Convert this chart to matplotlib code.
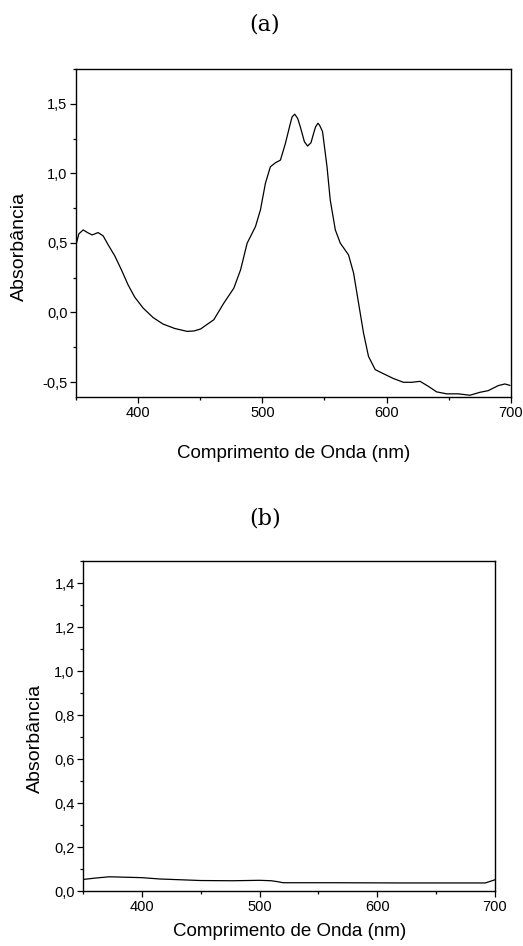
import numpy as np
import matplotlib
matplotlib.use("Agg")
import matplotlib.pyplot as plt
from matplotlib.ticker import MultipleLocator

plt.rcParams['font.family'] = ['Liberation Sans', 'DejaVu Sans']

# spectrum (a)
wl_a = [350.5, 352.3, 355.8, 359.3, 363, 367.8, 371.9, 375.9, 381.2, 386.6,
        391.9, 397.3, 404, 412, 420, 429.4, 439.5, 445, 450.3, 461,
        469, 477.1, 482.5, 487.8, 494.5, 498.5, 502.5, 506.5, 510.6, 514.6,
        518.6, 522.6, 524, 526.1, 528.5, 530.6, 533.9, 536.5, 539.2, 541.3,
        542.9, 544.8, 546.1, 548.5, 552.1, 554.7, 558.8, 562.8, 569.4, 573.5,
        577.5, 581.5, 585.5, 590.9, 596.3, 605.6, 613.6, 620.4, 627, 633.7,
        640.4, 648.5, 657.8, 667.2, 675.2, 681.9, 689.9, 695.3, 699.3]
abs_a = [0.502, 0.565, 0.593, 0.574, 0.557, 0.574, 0.550, 0.486, 0.407, 0.306,
         0.199, 0.110, 0.032, -0.036, -0.083, -0.115, -0.136, -0.133, -0.119, -0.052,
         0.067, 0.175, 0.306, 0.498, 0.617, 0.737, 0.928, 1.047, 1.076, 1.095,
         1.215, 1.359, 1.406, 1.425, 1.394, 1.334, 1.227, 1.196, 1.220, 1.287,
         1.334, 1.360, 1.346, 1.300, 1.047, 0.808, 0.593, 0.498, 0.414, 0.283,
         0.067, -0.148, -0.316, -0.411, -0.435, -0.475, -0.502, -0.502, -0.495, -0.531,
         -0.571, -0.585, -0.585, -0.595, -0.574, -0.562, -0.526, -0.514, -0.524]

# spectrum (b)
wl_b = [350, 360, 372, 386, 400, 415, 435, 450, 477, 500, 510, 515, 520,
        534, 562, 620, 676, 692, 700]
abs_b = [0.054, 0.060, 0.066, 0.064, 0.062, 0.056, 0.052, 0.049, 0.048, 0.050,
         0.048, 0.044, 0.039, 0.039, 0.039, 0.038, 0.038, 0.038, 0.052]

xticks = [400, 500, 600, 700]
yticks_a = [-0.5, 0.0, 0.5, 1.0, 1.5]
ylabels_a = ["-0,5", "0,0", "0,5", "1,0", "1,5"]
yticks_b = [0.0, 0.2, 0.4, 0.6, 0.8, 1.0, 1.2, 1.4]
ylabels_b = ["0,0", "0,2", "0,4", "0,6", "0,8", "1,0", "1,2", "1,4"]

fig = plt.figure(figsize=(5.23, 9.46), dpi=100)
ax1 = fig.add_axes([0.1453, 0.580, 0.8312, 0.3471])
ax2 = fig.add_axes([0.1593, 0.0578, 0.7866, 0.3492])

def style(ax, yt, yl, ymin_loc):
    ax.set_xticks(xticks)
    ax.set_xticklabels([str(t) for t in xticks])
    ax.set_yticks(yt)
    ax.set_yticklabels(yl)
    ax.xaxis.set_minor_locator(MultipleLocator(50))
    ax.yaxis.set_minor_locator(MultipleLocator(ymin_loc))
    ax.tick_params(which='major', direction='out', length=4.2, width=0.9,
                   labelsize=10.5, pad=2, top=False, right=False)
    ax.tick_params(which='minor', direction='out', length=2.2, width=0.9,
                   top=False, right=False)
    for s in ax.spines.values():
        s.set_linewidth(1.0)

ax1.plot(wl_a, abs_a, color='black', lw=0.9)
ax1.set_xlim(350, 700)
ax1.set_ylim(-0.61, 1.75)
style(ax1, yticks_a, ylabels_a, 0.25)

ax2.plot(wl_b, abs_b, color='black', lw=0.9)
ax2.set_xlim(350, 700)
ax2.set_ylim(0, 1.5)
style(ax2, yticks_b, ylabels_b, 0.1)

fig.text(0.5067, 0.9736, "(a)", family='DejaVu Serif', fontsize=16, ha='center', va='center')
fig.text(0.5067, 0.4524, "(b)", family='DejaVu Serif', fontsize=16, ha='center', va='center')

fig.text(0.561, 0.521, "Comprimento de Onda (nm)", fontsize=13.5, ha='center', va='center')
fig.text(0.553, 0.0148, "Comprimento de Onda (nm)", fontsize=13.5, ha='center', va='center')
fig.text(0.038, 0.740, "Absorbância", fontsize=14, rotation=90, ha='center', va='center')
fig.text(0.0669, 0.2195, "Absorbância", fontsize=14, rotation=90, ha='center', va='center')

fig.savefig("out.png", dpi=100)
